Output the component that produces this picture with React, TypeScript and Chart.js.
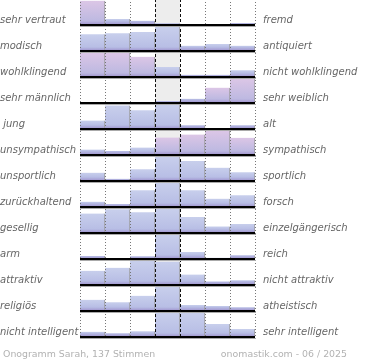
import { useEffect, useRef } from "react";
import { Chart, registerables } from "chart.js";

Chart.register(...registerables);

const categories = ["1", "2", "3", "4", "5", "6", "7"];

const leftLabels = [
  "sehr vertraut",
  "modisch",
  "wohlklingend",
  "sehr männlich",
  " jung",
  "unsympathisch",
  "unsportlich",
  "zurückhaltend",
  "gesellig",
  "arm",
  "attraktiv",
  "religiös",
  "nicht intelligent",
];

const rightLabels = [
  "fremd",
  "antiquiert",
  "nicht wohlklingend",
  "sehr weiblich",
  "alt",
  "sympathisch",
  "sportlich",
  "forsch",
  "einzelgängerisch",
  "reich",
  "nicht attraktiv",
  "atheistisch",
  "sehr intelligent",
];

// relative bar heights per row (each row is scaled to its own maximum)
const vertrautFremd = [24, 6, 4.3, 1.7, 0, 0, 2];
const modischAntiquiert = [16.7, 17.7, 19, 24.3, 5.3, 7, 5.3];
const wohlklingend = [23.7, 23.7, 19.7, 9.7, 2.3, 2.3, 6.7];
const maennlichWeiblich = [0, 0, 0, 2, 4.3, 15.3, 24.3];
const jungAlt = [8.3, 23, 18.3, 23.7, 3.7, 0, 3.7];
const unsympathischSympathisch = [5.7, 4, 7.7, 18, 21, 25, 17.7];
const unsportlichSportlich = [8.3, 2.3, 11.7, 24.3, 20, 13.3, 8.7];
const zurueckhaltendForsch = [5.3, 3, 16.7, 24.3, 16.7, 8.3, 11.7];
const geselligEinzelgaenger = [18.7, 22.7, 20, 23.3, 15.3, 6.3, 8.7];
const armReich = [3, 1, 2.7, 24, 7, 1.3, 3.7];
const attraktivNicht = [14.7, 17.7, 25, 24, 10.7, 3.7, 5];
const religioesAtheistisch = [11, 8.7, 15, 24, 6, 5, 3.7];
const intelligent = [5, 3.7, 5.7, 23.7, 23.7, 12.7, 7.7];

const rows = [
  vertrautFremd,
  modischAntiquiert,
  wohlklingend,
  maennlichWeiblich,
  jungAlt,
  unsympathischSympathisch,
  unsportlichSportlich,
  zurueckhaltendForsch,
  geselligEinzelgaenger,
  armReich,
  attraktivNicht,
  religioesAtheistisch,
  intelligent,
];

// style: which bars are tinted pink
const pinkBars: number[][] = [
  [0],
  [],
  [0, 1, 2],
  [5, 6],
  [],
  [3, 4, 5, 6],
  [],
  [],
  [],
  [],
  [],
  [],
  [],
];

const footerLeft = "Onogramm Sarah, 137 Stimmen";
const footerRight = "onomastik.com - 06 / 2025";

function barFill(c: any) {
  const chart = c.chart;
  if (c.type !== "data") return "#c0c6e8";
  const ds = c.dataset;
  const scale = chart.scales[ds.yAxisID];
  if (!scale) return "#c0c6e8";
  const v = c.raw as number;
  const top = scale.getPixelForValue(v);
  const base = scale.getPixelForValue(0);
  const h = base - top;
  if (!(h > 0.5) || !isFinite(h)) return "#a898d0";
  const pink = pinkBars[c.datasetIndex].includes(c.dataIndex);
  const g = chart.ctx.createLinearGradient(0, top, 0, base);
  g.addColorStop(0, pink ? "#dcc6e6" : "#c8cfec");
  const dark = Math.max(0, 1 - 4 / h);
  g.addColorStop(dark, pink ? "#bdb9e1" : "#b8bee5");
  g.addColorStop(1, "#9e90cc");
  return g;
}

const decorations = {
  id: "decorations",
  beforeDatasetsDraw(chart: any) {
    const { ctx, chartArea } = chart;
    const xs = chart.scales.x;
    const w = xs.getPixelForValue(1) - xs.getPixelForValue(0);
    const l = xs.getPixelForValue(3) - w / 2;
    ctx.save();
    ctx.fillStyle = "#ededed";
    ctx.fillRect(l, chartArea.top, w, chartArea.bottom - chartArea.top);
    ctx.restore();
  },
  afterDatasetsDraw(chart: any) {
    const { ctx, chartArea } = chart;
    const xs = chart.scales.x;
    const w = xs.getPixelForValue(1) - xs.getPixelForValue(0);
    ctx.save();
    for (let k = 0; k <= categories.length; k++) {
      const x = Math.round(xs.getPixelForValue(0) - w / 2 + k * w) + 0.5;
      ctx.beginPath();
      if (k === 3 || k === 4) {
        ctx.strokeStyle = "#111";
        ctx.setLineDash([3, 2]);
      } else {
        ctx.strokeStyle = "#777";
        ctx.setLineDash([1, 2]);
      }
      ctx.lineWidth = 1;
      ctx.moveTo(x, chartArea.top);
      ctx.lineTo(x, chartArea.bottom);
      ctx.stroke();
    }
    ctx.setLineDash([]);
    rows.forEach((_, i) => {
      const s = chart.scales["y" + i];
      const b = s.bottom;
      ctx.strokeStyle = "#aaaaaa";
      ctx.lineWidth = 1;
      ctx.beginPath();
      ctx.moveTo(chartArea.left, b + 1.5);
      ctx.lineTo(chartArea.right + 1, b + 1.5);
      ctx.stroke();
      ctx.strokeStyle = "#000";
      ctx.lineWidth = 2;
      ctx.beginPath();
      ctx.moveTo(chartArea.left, b);
      ctx.lineTo(chartArea.right, b);
      ctx.stroke();
      ctx.font = 'italic 10px "DejaVu Sans"';
      ctx.fillStyle = "#666666";
      ctx.textBaseline = "alphabetic";
      ctx.textAlign = "left";
      ctx.fillText(leftLabels[i], 0, b - 2);
      ctx.fillText(rightLabels[i], chartArea.right + 8, b - 2);
    });
    ctx.font = '9.4px "DejaVu Sans"';
    ctx.fillStyle = "#b2b2b2";
    ctx.textAlign = "left";
    ctx.fillText(footerLeft, 3, chartArea.bottom + 20);
    ctx.textAlign = "right";
    ctx.fillText(footerRight, 347, chartArea.bottom + 20);
    ctx.restore();
  },
};

export default function App() {
  const ref = useRef<HTMLCanvasElement | null>(null);
  useEffect(() => {
    document.body.style.margin = "0";
    if (!ref.current) return;
    const scales: any = {
      x: {
        type: "category",
        display: false,
        offset: true,
        grid: { display: false },
      },
    };
    rows.forEach((r, i) => {
      scales["y" + i] = {
        type: "linear",
        position: "left",
        stack: "rows",
        stackWeight: 1,
        weight: rows.length - i,
        display: false,
        min: 0,
        max: Math.max(...r) * 1.07,
        grid: { display: false, drawTicks: false },
        ticks: { display: false },
        border: { display: false },
      };
    });
    const chart = new Chart(ref.current, {
      type: "bar",
      data: {
        labels: categories,
        datasets: rows.map((r, i) => ({
          label: leftLabels[i].trim() + " – " + rightLabels[i],
          data: r,
          yAxisID: "y" + i,
          grouped: false,
          barPercentage: 1,
          categoryPercentage: 1,
          backgroundColor: barFill,
          borderColor: "#9a9a9a",
          borderWidth: { top: 0, right: 1, left: 0, bottom: 0 },
          borderSkipped: false,
        })),
      },
      options: {
        animation: false,
        responsive: true,
        maintainAspectRatio: false,
        layout: { padding: { left: 80, right: 115, top: 0, bottom: 23 } },
        plugins: {
          legend: { display: false },
          tooltip: { enabled: false },
          title: { display: false },
        },
        scales,
      },
      plugins: [decorations],
    });
    return () => chart.destroy();
  }, []);
  return (
    <div style={{ position: "relative", width: 370, height: 361, marginTop: -1 }}>
      <canvas ref={ref} />
    </div>
  );
}
